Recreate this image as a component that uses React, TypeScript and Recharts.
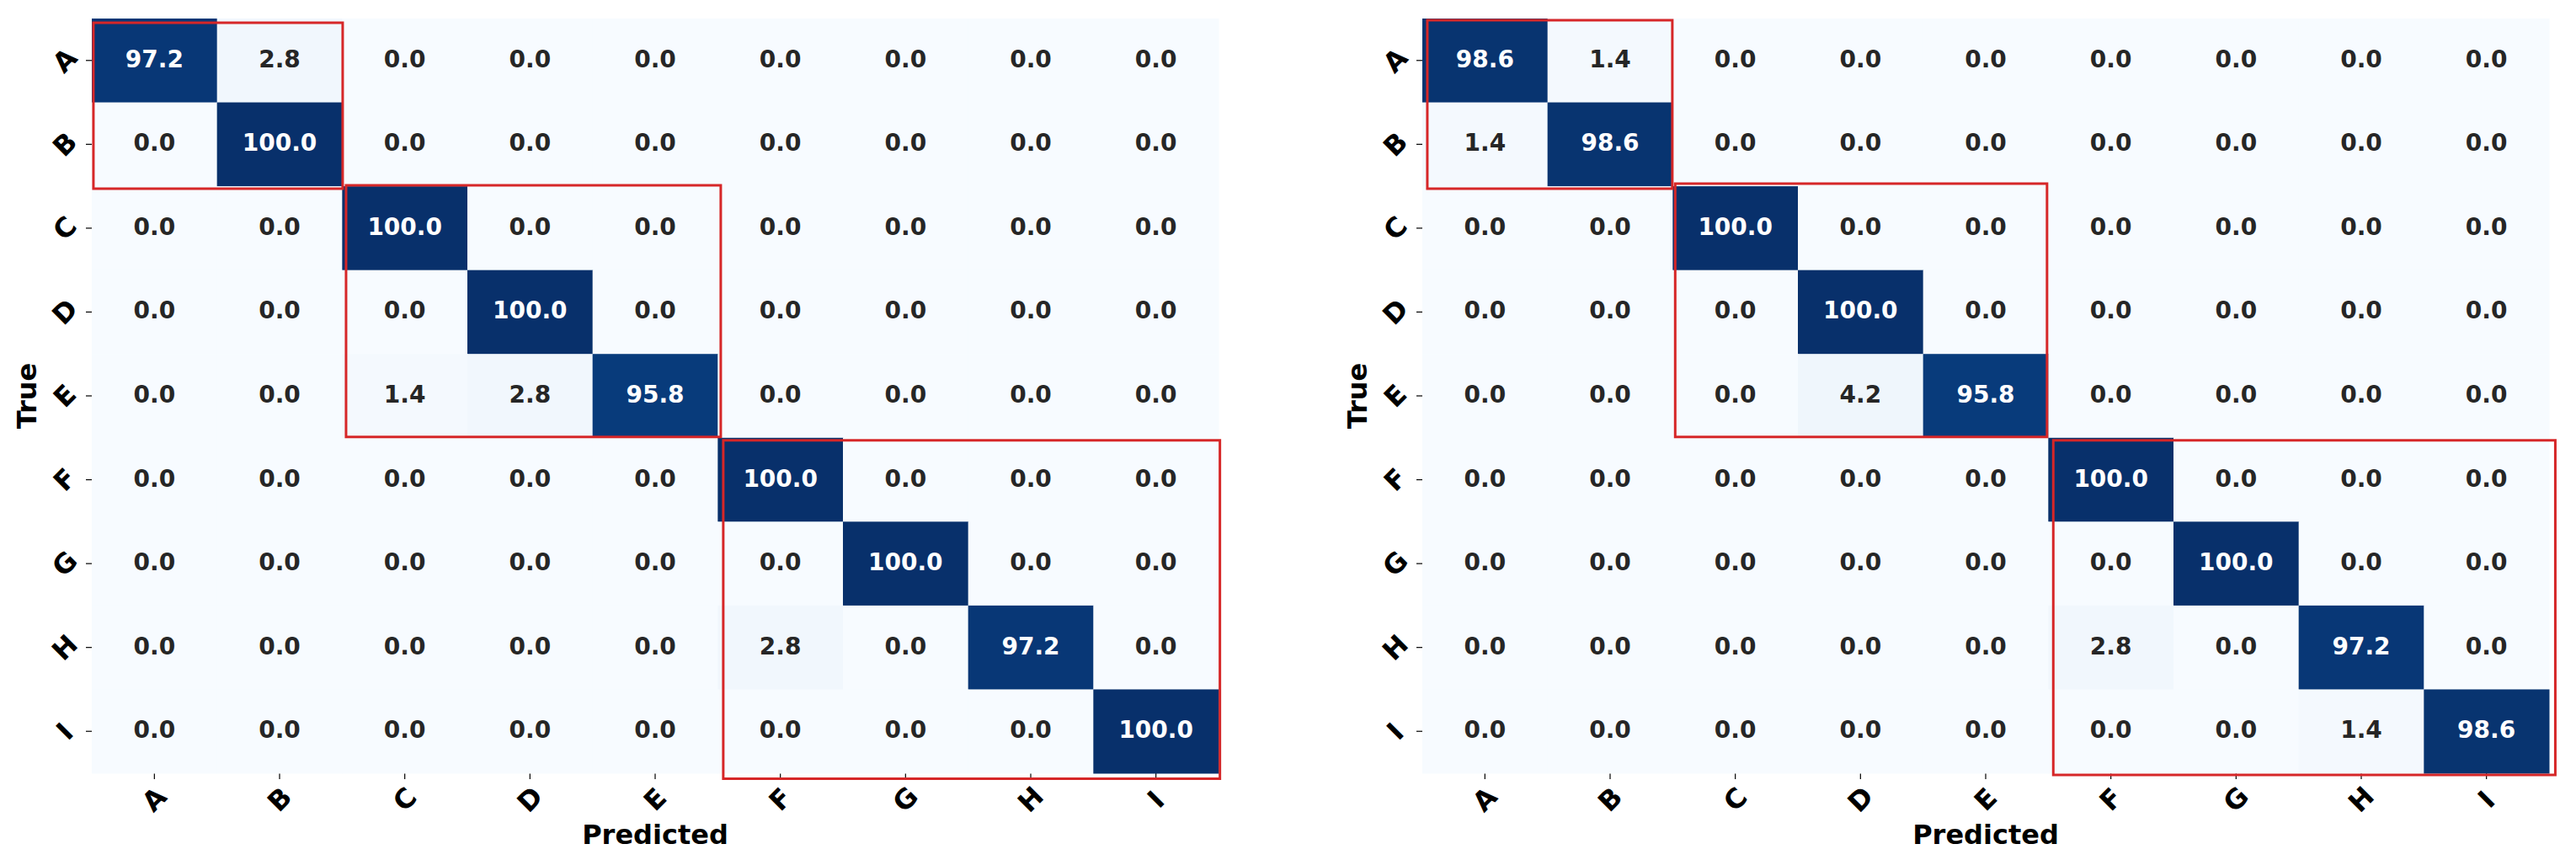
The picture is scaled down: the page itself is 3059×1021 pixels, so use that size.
import React from 'react';
import { ScatterChart, Scatter, XAxis, YAxis, ReferenceArea, Label } from 'recharts';

const labels = ['A', 'B', 'C', 'D', 'E', 'F', 'G', 'H', 'I'];

// confusion matrices, rows = true class, columns = predicted class (%)
const leftMatrix = [
  [97.2, 2.8, 0, 0, 0, 0, 0, 0, 0],
  [0, 100, 0, 0, 0, 0, 0, 0, 0],
  [0, 0, 100, 0, 0, 0, 0, 0, 0],
  [0, 0, 0, 100, 0, 0, 0, 0, 0],
  [0, 0, 1.4, 2.8, 95.8, 0, 0, 0, 0],
  [0, 0, 0, 0, 0, 100, 0, 0, 0],
  [0, 0, 0, 0, 0, 0, 100, 0, 0],
  [0, 0, 0, 0, 0, 2.8, 0, 97.2, 0],
  [0, 0, 0, 0, 0, 0, 0, 0, 100],
];

const rightMatrix = [
  [98.6, 1.4, 0, 0, 0, 0, 0, 0, 0],
  [1.4, 98.6, 0, 0, 0, 0, 0, 0, 0],
  [0, 0, 100, 0, 0, 0, 0, 0, 0],
  [0, 0, 0, 100, 0, 0, 0, 0, 0],
  [0, 0, 0, 4.2, 95.8, 0, 0, 0, 0],
  [0, 0, 0, 0, 0, 100, 0, 0, 0],
  [0, 0, 0, 0, 0, 0, 100, 0, 0],
  [0, 0, 0, 0, 0, 2.8, 0, 97.2, 0],
  [0, 0, 0, 0, 0, 0, 0, 1.4, 98.6],
];

// class groups outlined in red
const groups = [
  ['A', 'B'],
  ['C', 'D', 'E'],
  ['F', 'G', 'H', 'I'],
];

const FONT = '"DejaVu Sans", sans-serif';
const PLOT_W = 1338;
const PLOT_H = 896;
const CELL_W = PLOT_W / labels.length;
const CELL_H = PLOT_H / labels.length;

const BLUES = ['#f7fbff', '#deebf7', '#c6dbef', '#9ecae1', '#6baed6', '#4292c6', '#2171b5', '#08519c', '#08306b'];

function hexToRgb(h: string) {
  return [parseInt(h.slice(1, 3), 16), parseInt(h.slice(3, 5), 16), parseInt(h.slice(5, 7), 16)];
}

function blues(t: number) {
  const c = Math.max(0, Math.min(1, t)) * (BLUES.length - 1);
  const i = Math.min(Math.floor(c), BLUES.length - 2);
  const f = c - i;
  const a = hexToRgb(BLUES[i]);
  const b = hexToRgb(BLUES[i + 1]);
  const m = a.map((v, k) => Math.round(v + (b[k] - v) * f));
  return `rgb(${m[0]},${m[1]},${m[2]})`;
}

const ticks = labels.map((_, i) => i + 0.5);

const XTick = (props: any) => {
  const { x, y, payload } = props;
  return (
    <g transform={`translate(${x},${y + 22})`}>
      <text textAnchor="middle" dominantBaseline="central" transform="rotate(-45)"
        fontFamily={FONT} fontWeight="bold" fontSize={32} fill="#000">
        {labels[Math.round(payload.value - 0.5)]}
      </text>
    </g>
  );
};

const YTick = (props: any) => {
  const { x, y, payload } = props;
  return (
    <g transform={`translate(${x - 23},${y})`}>
      <text textAnchor="middle" dominantBaseline="central" transform="rotate(-45)"
        fontFamily={FONT} fontWeight="bold" fontSize={32} fill="#000">
        {labels[Math.round(payload.value - 0.5)]}
      </text>
    </g>
  );
};

const PredictedTitle = (props: any) => {
  const vb = props.viewBox;
  return (
    <text x={vb.x + vb.width / 2} y={vb.y + 84} textAnchor="middle"
      fontFamily={FONT} fontWeight="bold" fontSize={32} fill="#000">
      Predicted
    </text>
  );
};

const TrueTitle = (props: any) => {
  const vb = props.viewBox;
  const x = vb.x + 43;
  const y = vb.y + vb.height / 2;
  return (
    <text x={x} y={y} textAnchor="middle" transform={`rotate(-90, ${x}, ${y})`}
      fontFamily={FONT} fontWeight="bold" fontSize={32} fill="#000">
      True
    </text>
  );
};

type Nudge = [number, number, number, number];

const Panel = ({ matrix, left, width, nudges }: { matrix: number[][]; left: number; width: number; nudges: Nudge[] }) => {
  const all = matrix.flat();
  const vmin = Math.min(...all);
  const vmax = Math.max(...all);
  const cells = matrix.flatMap((row, r) => row.map((v, c) => ({ x: c + 0.5, y: r + 0.5, v })));

  const renderCell = (p: any) => {
    const { cx, cy, payload } = p;
    const t = (payload.v - vmin) / (vmax - vmin);
    return (
      <g>
        <rect x={cx - CELL_W / 2} y={cy - CELL_H / 2} width={CELL_W + 0.5} height={CELL_H + 0.5} fill={blues(t)} />
        <text x={cx} y={cy + 8} textAnchor="middle" fontFamily={FONT} fontWeight="bold" fontSize={28}
          fill={t > 0.5 ? '#ffffff' : '#262626'}>
          {payload.v.toFixed(1)}
        </text>
      </g>
    );
  };

  return (
    <div style={{ position: 'absolute', left, top: 0 }}>
      <ScatterChart width={width} height={1021} margin={{ top: 22, right: width - 109 - PLOT_W, bottom: 0, left: 0 }}>
        <XAxis dataKey="x" type="number" domain={[0, labels.length]} ticks={ticks} interval={0}
          height={103} axisLine={false} tickSize={7} tickLine={{ stroke: '#000', strokeWidth: 1.2 }}
          tick={<XTick />} label={<Label content={<PredictedTitle />} />} />
        <YAxis dataKey="y" type="number" domain={[0, labels.length]} ticks={ticks} interval={0} reversed
          width={109} axisLine={false} tickSize={7} tickLine={{ stroke: '#000', strokeWidth: 1.2 }}
          tick={<YTick />} label={<Label content={<TrueTitle />} />} />
        <Scatter data={cells} shape={renderCell} isAnimationActive={false} />
        {groups.map((g, i) => {
          const s = labels.indexOf(g[0]);
          const e = labels.indexOf(g[g.length - 1]) + 1;
          const n = nudges[i];
          return (
            <ReferenceArea key={i} x1={s + n[0]} x2={e + n[1]} y1={s + n[2]} y2={e + n[3]}
              ifOverflow="visible" fill="none" fillOpacity={0} stroke="#d62728" strokeWidth={3} zIndex={1000} />
          );
        })}
      </ScatterChart>
    </div>
  );
};

const leftNudges: Nudge[] = [
  [0.013, 0.004, 0.05, 0.028],
  [0.031, 0.024, -0.012, -0.01],
  [0.044, 0.011, 0.03, 0.066],
];

const rightNudges: Nudge[] = [
  [0.04, -0.003, 0.02, 0.028],
  [0.02, -0.01, -0.03, -0.01],
  [0.04, 0.05, 0.03, 0.02],
];

export default function App() {
  return (
    <div style={{ position: 'absolute', left: 0, top: 0, width: 3059, height: 1021, background: '#fff' }}>
      <Panel matrix={leftMatrix} left={0} width={1530} nudges={leftNudges} />
      <Panel matrix={rightMatrix} left={1580} width={1479} nudges={rightNudges} />
    </div>
  );
}
